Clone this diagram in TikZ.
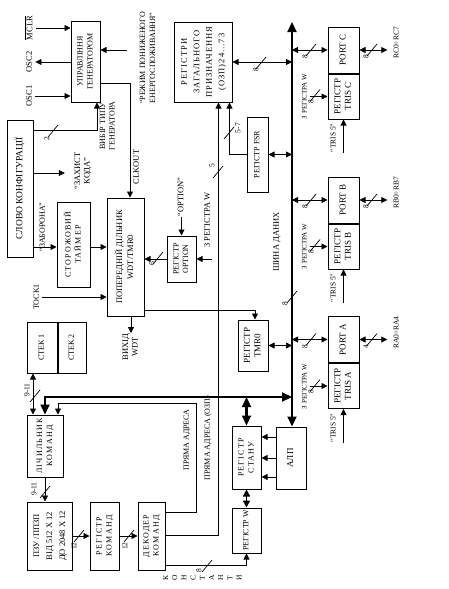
\documentclass[tikz,border=0pt]{standalone}
\usepackage{graphicx}
\usepackage{fontspec}
\setmainfont{Liberation Serif}
\usepackage{tikz}
\usetikzlibrary{arrows.meta,calc,positioning}

\newcommand{\vt}[1]{\rotatebox{90}{\begin{tabular}{@{}c@{}}#1\end{tabular}}}
\newcommand{\bw}[6]{%
  \draw[tick] (#2,#3) ++(-5,6) -- ++(10,-12);
  \node[num] (#1) at (#5,#6) {\rotatebox{90}{#4}};}

\begin{document}
\begin{tikzpicture}[x=1pt,y=-1pt,
  blk/.style={draw,line width=1pt,inner sep=0pt,font=\fontsize{8}{10}\selectfont},
  spc/.style={font=\fontsize{8}{10}\selectfont\addfontfeature{LetterSpace=15}},
  sml/.style={font=\fontsize{8}{9.5}\selectfont},
  prt/.style={font=\fontsize{9}{10.5}\selectfont},
  lbl/.style={inner sep=0.5pt,font=\fontsize{8.5}{9.5}\selectfont},
  plbl/.style={inner sep=0.5pt,font=\fontsize{7}{8}\selectfont},
  num/.style={inner sep=0pt,font=\fontsize{7.5}{8}\selectfont},
  arr/.style={-{Triangle[length=6pt,width=6pt]},line width=0.8pt},
  darr/.style={{Triangle[length=6pt,width=6pt]}-{Triangle[length=6pt,width=6pt]},line width=0.8pt},
  mthk/.style={{Triangle[length=7pt,width=7pt]}-{Triangle[length=7pt,width=7pt]},line width=1.4pt},
  thk/.style={{Triangle[length=10pt,width=9pt]}-{Triangle[length=10pt,width=9pt]},line width=2.2pt},
  tick/.style={line width=0.7pt}
]
\useasboundingbox (0,0) rectangle (449,589);

% generator and configuration
\node[blk,minimum width=29pt,minimum height=81pt] (gen) at (85.5,61.5) {\vt{УПРАВЛІННЯ\\ГЕНЕРАТОРОМ}};
\node[blk,font=\fontsize{9.5}{10}\selectfont,minimum width=26pt,minimum height=137pt] (cfg) at (20,188.5) {\vt{СЛОВО КОНФІГУРАЦІЇ}};
\node[blk,spc,minimum width=33pt,minimum height=85pt] (wdt) at (73.5,244.5) {\vt{СТОРОЖОВИЙ\\ТАЙМЕР}};
\node[blk,font=\fontsize{8.5}{11}\selectfont,minimum width=37pt,minimum height=118pt] (pre) at (125.5,257) {\vt{ПОПЕРЕДНІЙ ДІЛЬНИК\\WDT/TMR0}};
\node[blk,sml,minimum width=29pt,minimum height=46pt] (opt) at (181.5,259) {\vt{РЕГІСТР\\OPTION}};

\node[lbl] (mclr) at (30,28) {\vt{$\overline{\hbox{MCLR}}$}};
\node[lbl] (osc2) at (30,62) {\vt{OSC2}};
\node[lbl] (osc1) at (30,96) {\vt{OSC1}};
\node[lbl,font=\fontsize{8}{10}\selectfont] (sleep) at (148,58) {\vt{“РЕЖИМ ПОНИЖЕНОГО\\ЕНЕРГОСПОЖИВАННЯ”}};
\node[lbl,font=\fontsize{8}{9.5}\selectfont] (sel) at (108,126) {\vt{ВИБІР ТИПУ\\ГЕНЕРАТОРА}};
\node[lbl] (clk) at (137,167) {\vt{CLKOUT}};
\node[lbl] (prot) at (83,171) {\vt{“ЗАХИСТ\\КОДА”}};
\node[lbl,font=\fontsize{8}{9}\selectfont] (dis) at (43,227) {\vt{“ЗАБОРОНА”}};
\node[lbl,font=\fontsize{8}{9}\selectfont] (tock) at (37,297) {\vt{TOCK1}};
\node[lbl] (wdtout) at (131,347) {\vt{ВИХІД\\WDT}};
\node[lbl] (optlbl) at (181.5,197) {\vt{“OPTION”}};
\node[lbl] (wlbl) at (208,220) {\vt{З РЕГІСТРА W}};
\coordinate (wopt) at (212,259);

\draw[arr] (mclr.east) -- (gen.west |- mclr.east);
\draw[arr] (gen.west |- osc2.east) -- (osc2.east);
\draw[arr] (osc1.east) -- (gen.west |- osc1.east);
\draw[arr] ([xshift=-10pt]sleep.west |- 0,50) -- (gen.east |- 0,50);
\draw[arr] (gen.east |- 0,83) -| ([xshift=4.5pt]pre.north);
\draw[arr] (cfg.east |- 0,130) -| ([xshift=11.5pt]gen.south);
\bw{w2}{53}{131}{2}{47}{139}
\draw[arr] (cfg.east |- 0,173) -- ([xshift=-8pt]prot.west |- 0,173);
\draw[arr] (cfg.east |- 0,247) -- (wdt.west |- 0,247);
\draw[arr] (wdt.east |- 0,247) -- (pre.west |- 0,247);
\draw[arr] (tock.east) -- (pre.west |- tock.east);
\draw[arr] (pre.south -| wdtout) -- (wdtout.north);
\draw[arr] (opt.west) -- (pre.east |- opt.west);
\bw{w6}{158}{258}{6}{152}{264}
\draw[arr] (optlbl.south) -- (opt.north);
\draw[arr] (wopt) -- (opt.east);

% registers and data bus
\node[blk,font=\fontsize{8.5}{12.5}\selectfont\addfontfeature{LetterSpace=12},minimum width=58pt,minimum height=80pt] (gpr) at (203,62) {\vt{РЕГІСТРИ\\ЗАГАЛЬНОГО\\ПРИЗНАЧЕННЯ\\(ОЗП)24…73}};
\node[blk,sml,minimum width=21pt,minimum height=75pt] (fsr) at (257.5,154.5) {\vt{РЕГІСТР FSR}};
\node[blk,prt,minimum width=30pt,minimum height=51pt] (tmr) at (253,345.5) {\vt{РЕГІСТР\\TMR0}};
\node[lbl] (buslbl) at (277,242) {\vt{ШИНА ДАНИХ}};
\coordinate (bus) at (292,22);

\node[blk,sml,minimum width=30pt,minimum height=51pt] (stk1) at (42,347.5) {\vt{СТЕК 1}};
\node[blk,sml,minimum width=28pt,minimum height=51pt,anchor=west] (stk2) at (stk1.east) {\vt{СТЕК 2}};
\node[blk,spc,minimum width=36pt,minimum height=62pt] (pc) at (45,446) {\vt{ЛІЧИЛЬНИК\\КОМАНД}};
\node[blk,font=\fontsize{8.5}{13}\selectfont,minimum width=45pt,minimum height=68pt] (rom) at (49.5,536) {\vt{ПЗУ /ППЗП\\ВІД 512 Х 12\\ДО 2048 Х 12}};
\node[blk,spc,minimum width=29pt,minimum height=68pt] (ir) at (104.5,536) {\vt{РЕГІСТР\\КОМАНД}};
\node[blk,spc,minimum width=27pt,minimum height=68pt] (dec) at (151.5,536) {\vt{ДЕКОДЕР\\КОМАНД}};
\node[blk,sml,minimum width=29pt,minimum height=45pt] (wreg) at (246.5,530.5) {\vt{РЕГІСТР W}};
\node[blk,spc,minimum width=29pt,minimum height=63pt] (stat) at (246.5,457.5) {\vt{РЕГІСТР\\СТАНУ}};
\node[blk,font=\fontsize{9}{10}\selectfont,minimum width=30pt,minimum height=62pt] (alu) at (291,458) {\vt{АЛП}};

\node[lbl,font=\fontsize{8}{9}\selectfont] (adr) at (187,440) {\vt{ПРЯМА АДРЕСА}};
\node[lbl,font=\fontsize{8}{9}\selectfont] (adr2) at (208,438) {\vt{ПРЯМА АДРЕСА (ОЗП)}};
\node[lbl,font=\fontsize{7.5}{9.2}\selectfont] (const) at (203,578) {\vt{К\\О\\Н\\С\\Т\\А\\Н\\Т\\И}};

\draw[thk] (bus) -- (alu.north -| bus);
\bw{w8b}{292}{297}{8}{285}{304}
\draw[darr] (gpr.east) -- (bus |- gpr.east);
\bw{w8g}{261}{63}{8}{256}{70}
\draw[arr] (fsr.west) -| ([xshift=-3pt]gpr.south east);
\bw{w57}{229}{133}{5-7}{238}{128}
\draw[darr] (fsr.east) -- (bus |- fsr.east);
\draw[darr] (tmr.east) -- (bus |- tmr.east);
\draw[arr] (pre.east |- 0,310) -| ([xshift=2pt]tmr.north);
\draw[arr] (dec.east |- 0,535) -| ([xshift=-14pt]gpr.south east);
\bw{w5}{218}{172}{5}{212}{166}
\draw[arr] (dec.east |- 0,512) -| (196,403) -| ([xshift=13pt]pc.north);
\draw[thk] (pc.north) |- (bus |- 0,397);
\draw[thk] (stat.north) -- (stat.north |- 0,397);
\draw[mthk] (wreg.north) -- (stat.south);
\draw[arr] (dec.east |- 0,565) -| (wreg.south);
\bw{w8k}{207}{566}{8}{199}{571}
\foreach \yy in {437,458,477}
  \draw[arr] (alu.west |- 0,\yy) -- (stat.east |- 0,\yy);

\draw[darr] ([xshift=-9pt]stk1.south) -- ([xshift=-12pt]pc.north);
\bw{w911a}{35}{396}{9-11}{27}{390}
\draw[arr] (pc.south) -- (rom.north -| pc.south);
\bw{w911b}{45}{492}{9-11}{34}{489}
\draw[arr] (rom.east) -- (ir.west);
\bw{w12a}{79}{536}{12}{74}{546}
\draw[arr] (ir.east) -- (dec.west);
\bw{w12b}{129}{536}{12}{125}{546}

% ports
\foreach \p/\yp/\yt/\out/\n in {C/50/95.5/RC0÷RC7/8,B/200/245.5/RB0÷RB7/8,A/339.5/385.5/RA0÷RA4/4}{
  \node[blk,prt,minimum width=31pt,minimum height=46pt] (port\p) at (343.5,\yp) {\vt{PORT \p}};
  \node[blk,prt,minimum width=31pt,minimum height=45pt,anchor=north] (tris\p) at (port\p.south) {\vt{РЕГІСТР\\TRIS \p}};
  \node[plbl] (w\p) at (305,\yt+1) {\vt{З РЕГІСТРА W}};
  \node[plbl,font=\fontsize{7.5}{8}\selectfont] (t5\p) at (334,\yt+42.5) {\vt{“TRIS 5”}};
  \node[plbl,font=\fontsize{7.5}{8}\selectfont] (out\p) at (397,\yp-7) {\vt{\out}};
  \draw[darr] (bus |- port\p.west) -- (port\p.west);
  \bw{wi\p}{311}{\yp}{8}{305}{\yp+7}
  \draw[arr] (w\p.east |- tris\p.west) -- (tris\p.west);
  \bw{wt\p}{315}{\yt}{8}{311}{\yt+6}
  \draw[arr] (tris\p.south |- t5\p.south) -- (tris\p.south);
  \draw[darr] (port\p.east) -- ([xshift=-5pt]out\p.west |- port\p.east);
  \bw{wo\p}{372}{\yp}{\n}{366}{\yp+7}
}
\end{tikzpicture}
\end{document}
